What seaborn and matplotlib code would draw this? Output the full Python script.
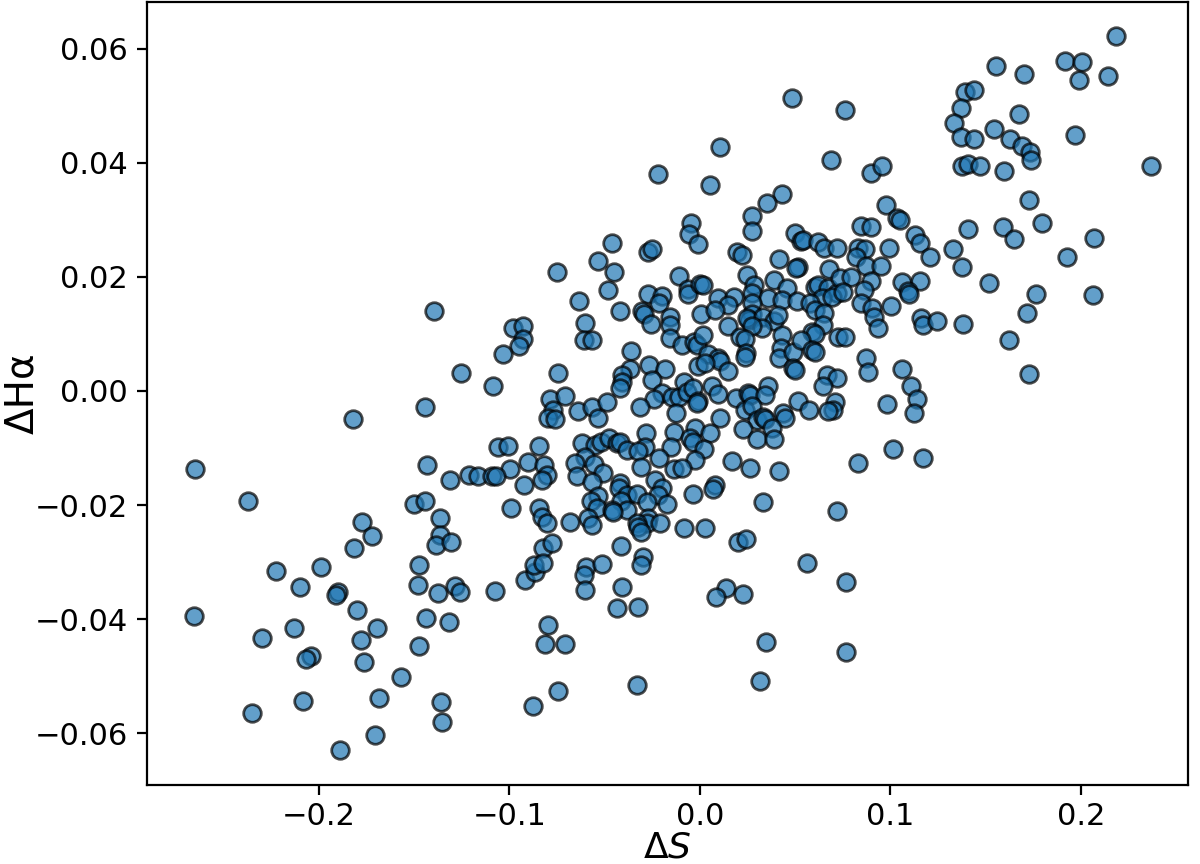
import matplotlib
matplotlib.use("Agg")
import matplotlib.pyplot as plt
import seaborn as sns
import pandas as pd

# values, grouped by region of the plot
# far left (dS < -0.15)
ds_a = [-0.1823, -0.2649, -0.2373, -0.1773, -0.1722, -0.1818, -0.2227, -0.1991, -0.2098,
        -0.1900, -0.1912, -0.1801, -0.2658, -0.2131, -0.2301, -0.1694, -0.1780, -0.2041,
        -0.2070, -0.1765, -0.1687, -0.2083, -0.2350, -0.1706, -0.1890]
dh_a = [-0.0050, -0.0137, -0.0193, -0.0230, -0.0254, -0.0275, -0.0315, -0.0309, -0.0343,
        -0.0353, -0.0358, -0.0384, -0.0395, -0.0416, -0.0433, -0.0415, -0.0436, -0.0465,
        -0.0470, -0.0475, -0.0539, -0.0544, -0.0564, -0.0604, -0.0629]

# -0.15 .. -0.085, upper
ds_b = [-0.1395, -0.0982, -0.0928, -0.0928, -0.0949, -0.1034, -0.1256, -0.1088, -0.1445,
        -0.1059, -0.1006, -0.0845, -0.1432, -0.0901, -0.0999]
dh_b = [0.0140, 0.0111, 0.0113, 0.0091, 0.0079, 0.0065, 0.0032, 0.0009, -0.0029,
        -0.0098, -0.0096, -0.0096, -0.0130, -0.0125, -0.0136]

# -0.15 .. -0.085, lower
ds_c = [-0.1311, -0.1213, -0.1164, -0.1094, -0.1073, -0.0922, -0.1501, -0.1444, -0.0992,
        -0.0844, -0.1365, -0.1365, -0.1387, -0.1307, -0.1474, -0.1479, -0.1374, -0.1286,
        -0.1258, -0.1076, -0.0919, -0.0866, -0.0873, -0.1440, -0.1318, -0.1474, -0.1570,
        -0.1358, -0.0878, -0.1354]
dh_c = [-0.0156, -0.0147, -0.0149, -0.0149, -0.0149, -0.0165, -0.0198, -0.0193, -0.0205,
        -0.0206, -0.0222, -0.0253, -0.0270, -0.0265, -0.0305, -0.0340, -0.0355, -0.0342,
        -0.0353, -0.0350, -0.0332, -0.0317, -0.0305, -0.0398, -0.0406, -0.0447, -0.0502,
        -0.0545, -0.0553, -0.0581]

# -0.085 .. -0.01, upper
ds_d = [-0.0220, -0.0464, -0.0271, -0.0250, -0.0534, -0.0749, -0.0451, -0.0110, -0.0481,
        -0.0271, -0.0201, -0.0214, -0.0635, -0.0420, -0.0306, -0.0296, -0.0158, -0.0604,
        -0.0259, -0.0158, -0.0158, -0.0609, -0.0569, -0.0362, -0.0744, -0.0367, -0.0411,
        -0.0266, -0.0184, -0.0250, -0.0408, -0.0420, -0.0787, -0.0709, -0.0201, -0.0243,
        -0.0149, -0.0110]
dh_d = [0.0381, 0.0259, 0.0244, 0.0249, 0.0228, 0.0208, 0.0208, 0.0202, 0.0177,
        0.0170, 0.0167, 0.0155, 0.0157, 0.0140, 0.0140, 0.0135, 0.0130, 0.0119,
        0.0117, 0.0115, 0.0092, 0.0089, 0.0089, 0.0070, 0.0031, 0.0039, 0.0028,
        0.0046, 0.0038, 0.0019, 0.0016, 0.0005, -0.0015, -0.0008, -0.0004, -0.0015,
        -0.0011, -0.0011]

# -0.085 .. -0.01, lower
ds_e = [-0.0770, -0.0796, -0.0761, -0.0639, -0.0565, -0.0487, -0.0537, -0.0315, -0.0128,
        -0.0621, -0.0551, -0.0520, -0.0478, -0.0437, -0.0420, -0.0385, -0.0283, -0.0289,
        -0.0324, -0.0135, -0.0154, -0.0604, -0.0656, -0.0555, -0.0817, -0.0214, -0.0311,
        -0.0136, -0.0511, -0.0647, -0.0805, -0.0831, -0.0565, -0.0236, -0.0420, -0.0425,
        -0.0201, -0.0219, -0.0175, -0.0385, -0.0332, -0.0277, -0.0537, -0.0574, -0.0542,
        -0.0416, -0.0385, -0.0464, -0.0455, -0.0586, -0.0565, -0.0271, -0.0280, -0.0332,
        -0.0324, -0.0310, -0.0210, -0.0831, -0.0805, -0.0682, -0.0823, -0.0778, -0.0823,
        -0.0415, -0.0600, -0.0516, -0.0607, -0.0298, -0.0311, -0.0604, -0.0408, -0.0437,
        -0.0327, -0.0796, -0.0814, -0.0709, -0.0744, -0.0332]
dh_e = [-0.0033, -0.0048, -0.0049, -0.0035, -0.0029, -0.0020, -0.0047, -0.0029, -0.0039,
        -0.0091, -0.0094, -0.0089, -0.0083, -0.0092, -0.0089, -0.0104, -0.0074, -0.0098,
        -0.0106, -0.0072, -0.0099, -0.0115, -0.0127, -0.0128, -0.0129, -0.0117, -0.0134,
        -0.0136, -0.0144, -0.0150, -0.0147, -0.0156, -0.0159, -0.0156, -0.0162, -0.0170,
        -0.0171, -0.0182, -0.0199, -0.0182, -0.0181, -0.0195, -0.0185, -0.0193, -0.0206,
        -0.0193, -0.0208, -0.0209, -0.0213, -0.0223, -0.0235, -0.0223, -0.0232, -0.0232,
        -0.0238, -0.0247, -0.0231, -0.0221, -0.0232, -0.0229, -0.0276, -0.0267, -0.0302,
        -0.0272, -0.0308, -0.0304, -0.0323, -0.0292, -0.0305, -0.0349, -0.0343, -0.0380,
        -0.0378, -0.0411, -0.0443, -0.0443, -0.0526, -0.0516]

# -0.01 .. 0.073, top
ds_f = [0.0485, 0.0105, 0.0686, 0.0052, 0.0432, 0.0352, 0.0271, 0.0275, -0.0047,
        -0.0058, -0.0012, 0.0499, 0.0530, 0.0542, 0.0618, 0.0653, 0.0721, 0.0193,
        0.0219, 0.0416, 0.0513, 0.0502, 0.0679, 0.0247, 0.0387, 0.0455, 0.0285,
        0.0275, -0.0061, -0.0061, 0.0000, 0.0017, 0.0604, 0.0619, 0.0674, 0.0718,
        0.0096, 0.0180, 0.0359, 0.0639]
dh_f = [0.0514, 0.0427, 0.0405, 0.0361, 0.0345, 0.0330, 0.0306, 0.0281, 0.0294,
        0.0275, 0.0258, 0.0277, 0.0263, 0.0265, 0.0261, 0.0250, 0.0250, 0.0244,
        0.0239, 0.0232, 0.0218, 0.0215, 0.0214, 0.0204, 0.0194, 0.0180, 0.0186,
        0.0171, 0.0178, 0.0170, 0.0187, 0.0186, 0.0182, 0.0186, 0.0180, 0.0171,
        0.0163, 0.0165, 0.0163, 0.0163]

# -0.01 .. 0.073, middle (dense)
ds_g = [0.0149, 0.0271, 0.0429, 0.0508, 0.0578, 0.0691, 0.0005, 0.0079, 0.0275,
        0.0257, 0.0245, 0.0332, 0.0390, 0.0408, 0.0327, 0.0271, 0.0145, 0.0429,
        0.0604, 0.0651, 0.0647, 0.0586, 0.0604, 0.0726, 0.0210, 0.0236, -0.0096,
        -0.0030, -0.0017, 0.0017, 0.0044, 0.0096, 0.0105, -0.0012, 0.0026, 0.0149,
        0.0240, 0.0236, 0.0425, 0.0415, 0.0490, 0.0530, 0.0586, 0.0604, 0.0490,
        0.0499, -0.0082, -0.0070, -0.0035, -0.0009, -0.0017, 0.0065, 0.0096, 0.0189,
        0.0250, 0.0262, 0.0355, 0.0341, 0.0513, 0.0572, 0.0665, 0.0718, 0.0644,
        0.0709, 0.0700, 0.0674, 0.0236, 0.0271, 0.0105, 0.0298, 0.0332, 0.0341,
        0.0437, 0.0446, 0.0376, 0.0227, 0.0298, 0.0390, -0.0026, -0.0053, -0.0035,
        0.0052, 0.0023, -0.0026, -0.0096, 0.0170, 0.0262]
dh_g = [0.0151, 0.0154, 0.0160, 0.0157, 0.0154, 0.0165, 0.0135, 0.0142, 0.0135,
        0.0125, 0.0128, 0.0130, 0.0123, 0.0133, 0.0110, 0.0113, 0.0113, 0.0098,
        0.0142, 0.0137, 0.0116, 0.0104, 0.0099, 0.0095, 0.0095, 0.0091, 0.0081,
        0.0086, 0.0081, 0.0098, 0.0064, 0.0058, 0.0053, 0.0044, 0.0049, 0.0035,
        0.0066, 0.0060, 0.0075, 0.0058, 0.0069, 0.0089, 0.0072, 0.0069, 0.0041,
        0.0037, 0.0015, -0.0002, 0.0005, -0.0018, -0.0022, 0.0009, -0.0006, -0.0013,
        -0.0004, -0.0007, 0.0008, -0.0007, -0.0018, -0.0033, 0.0028, 0.0023, 0.0009,
        -0.0019, -0.0033, -0.0036, -0.0033, -0.0026, -0.0048, -0.0051, -0.0045, -0.0049,
        -0.0039, -0.0048, -0.0065, -0.0067, -0.0085, -0.0085, -0.0065, -0.0083, -0.0089,
        -0.0074, -0.0101, -0.0121, -0.0135, -0.0123, -0.0135]

# -0.01 .. 0.073, bottom
ds_h = [0.0416, 0.0079, 0.0070, -0.0035, 0.0332, 0.0721, -0.0082, 0.0026, 0.0201,
        0.0241, 0.0560, 0.0135, 0.0084, 0.0224, 0.0345, 0.0315]
dh_h = [-0.0140, -0.0165, -0.0172, -0.0181, -0.0195, -0.0210, -0.0241, -0.0241, -0.0264,
        -0.0260, -0.0302, -0.0345, -0.0361, -0.0356, -0.0441, -0.0509]

# 0.073 .. 0.157, upper
ds_i = [0.1391, 0.1440, 0.0761, 0.1370, 0.1335, 0.1545, 0.1370, 0.1440, 0.0898,
        0.0957, 0.1374, 0.1405, 0.1471, 0.0976, 0.1033, 0.1050, 0.0845, 0.0898,
        0.1405, 0.1129, 0.1155, 0.0831, 0.0866, 0.0992, 0.1330, 0.0819, 0.1207,
        0.0871, 0.0950, 0.1377, 0.0735, 0.0793, 0.0898, 0.1059, 0.1155, 0.1093,
        0.1097, 0.1517, 0.0752, 0.0861, 0.0845, 0.0901, 0.0915, 0.1001, 0.1159,
        0.1172, 0.1246, 0.1379, 0.0936]
dh_i = [0.0525, 0.0528, 0.0492, 0.0496, 0.0470, 0.0459, 0.0445, 0.0442, 0.0382,
        0.0394, 0.0395, 0.0398, 0.0394, 0.0326, 0.0304, 0.0300, 0.0289, 0.0288,
        0.0284, 0.0274, 0.0259, 0.0250, 0.0249, 0.0250, 0.0249, 0.0234, 0.0235,
        0.0219, 0.0219, 0.0217, 0.0198, 0.0199, 0.0192, 0.0191, 0.0193, 0.0175,
        0.0170, 0.0189, 0.0174, 0.0177, 0.0154, 0.0145, 0.0129, 0.0149, 0.0128,
        0.0116, 0.0123, 0.0118, 0.0110]

# 0.073 .. 0.157, lower
ds_j = [0.0761, 0.0870, 0.0883, 0.1059, 0.1108, 0.1138, 0.1125, 0.0983, 0.1012,
        0.0831, 0.1169, 0.0766, 0.0765]
dh_j = [0.0095, 0.0057, 0.0033, 0.0038, 0.0009, -0.0014, -0.0038, -0.0023, -0.0102,
        -0.0126, -0.0118, -0.0335, -0.0457]

# far right (dS > 0.155)
ds_k = [0.2184, 0.1916, 0.2004, 0.1702, 0.1991, 0.2143, 0.1554, 0.1675, 0.1969,
        0.1627, 0.1689, 0.1732, 0.1736, 0.2366, 0.1596, 0.1729, 0.1592, 0.1650,
        0.1797, 0.2067, 0.1928, 0.1762, 0.2063, 0.1718, 0.1622, 0.1726]
dh_k = [0.0622, 0.0579, 0.0577, 0.0556, 0.0546, 0.0553, 0.0569, 0.0485, 0.0449,
        0.0442, 0.0430, 0.0419, 0.0405, 0.0395, 0.0386, 0.0335, 0.0288, 0.0267,
        0.0294, 0.0269, 0.0235, 0.0170, 0.0168, 0.0137, 0.0089, 0.0030]

ds = ds_a + ds_b + ds_c + ds_d + ds_e + ds_f + ds_g + ds_h + ds_i + ds_j + ds_k
dh = dh_a + dh_b + dh_c + dh_d + dh_e + dh_f + dh_g + dh_h + dh_i + dh_j + dh_k
df = pd.DataFrame({"dS": ds, "dHa": dh})

fig = plt.figure(figsize=(6, 4.32), dpi=200)
ax = fig.add_axes([0.1225, 0.0914, 0.8675, 0.9063])
sns.scatterplot(data=df, x="dS", y="dHa", ax=ax, color="C0", alpha=0.7,
                edgecolor="k", linewidth=1, s=40)
ax.set_xlim(-0.2903, 0.2562)
ax.set_ylim(-0.0691, 0.0682)
ax.tick_params(labelsize=11)
ax.tick_params(axis="x", pad=2.5)
ax.set_xlabel(r"$\Delta S$", fontsize=13, labelpad=0)
ax.set_ylabel("ΔHα", fontsize=14)
ax.yaxis.set_label_coords(-0.102, 0.5)

fig.savefig("out.png", dpi=200)
